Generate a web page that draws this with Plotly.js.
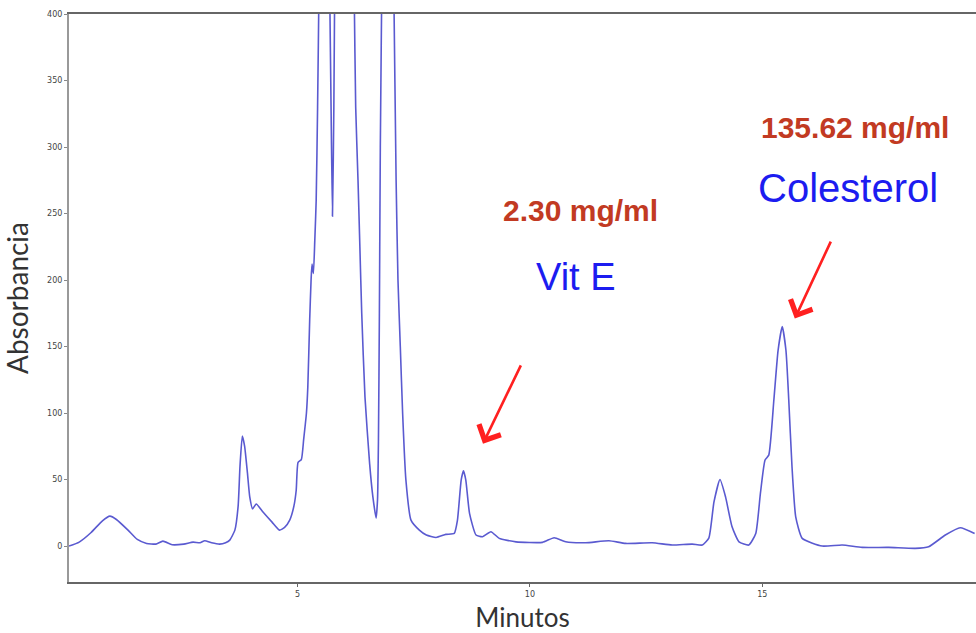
<!DOCTYPE html>
<html>
<head>
<meta charset="utf-8">
<script src="https://cdn.plot.ly/plotly-3.0.1.min.js"></script>
<style>html,body{margin:0;padding:0;background:#fff;}#chart{width:976px;height:633px;}</style>
</head>
<body>
<div id="chart"></div>
<script>
// Retention time (minutes)
const minutos = [
  0.08, 0.3, 0.55, 0.8, 0.96, 1.1, 1.35, 1.55, 1.75, 1.95, 2.1, 2.3, 2.55, 2.75, 2.9, 3.0, 3.15, 3.32, 3.45, 3.54,
  3.65, 3.72, 3.76, 3.81, 3.86, 3.92, 3.97, 4.03, 4.11, 4.25, 4.45, 4.61, 4.72, 4.83, 4.92, 4.97, 5.01, 5.08, 5.13,
  5.19, 5.22, 5.26, 5.29, 5.31, 5.34, 5.37, 5.40, 5.43, 5.46, 5.5, 5.6, 5.66, 5.69, 5.72, 5.75, 5.78, 5.80, 5.85,
  6.0, 6.15, 6.22, 6.25, 6.30, 6.34, 6.38, 6.45, 6.55, 6.62, 6.69, 6.72, 6.74, 6.76, 6.78, 6.82, 6.9, 7.0, 7.07,
  7.12, 7.16, 7.21, 7.26, 7.33, 7.44, 7.62, 7.77, 7.98, 8.19, 8.37, 8.44, 8.52, 8.57, 8.62, 8.70, 8.84, 8.98, 9.16,
  9.34, 9.70, 10.27, 10.52, 10.77, 11.20, 11.70, 12.06, 12.63, 13.06, 13.49, 13.71, 13.85, 13.96, 14.09, 14.21,
  14.35, 14.50, 14.71, 14.86, 14.96, 15.06, 15.14, 15.25, 15.34, 15.43, 15.51, 15.57, 15.64, 15.72, 15.86, 16.29,
  16.72, 17.15, 17.72, 18.29, 18.58, 18.94, 19.26, 19.57
];
// Absorbance
const absorbancia = [
  0, 3, 10, 19, 22.5, 20, 12, 5, 2, 1.5, 3.7, 1, 1.5, 3, 2.5, 4, 2.5, 1.5, 2.5, 4.5,
  12, 30, 60, 82.7, 75, 55, 37, 28, 31.6, 25.8, 18, 12, 14, 19.5, 30, 42, 63, 65, 80,
  100, 120, 170, 200, 212, 205, 230, 260, 330, 420, 600, 650, 520, 420, 330, 248, 330, 430, 650,
  700, 600, 410, 330, 275, 225, 175, 112, 62, 37, 21, 35, 80, 175, 300, 450, 700, 600, 420,
  275, 200, 150, 100, 50, 19.5, 12, 8.3, 6.5, 8.8, 9.5, 19.5, 49.6, 56.6, 49.6, 24.6, 8.3, 7, 10.8,
  5.8, 3.2, 2.8, 6.3, 3.2, 2.5, 4, 2, 2.5, 0.8, 1.5, 0.8, 6, 33, 50, 37,
  14.5, 3.2, 0.8, 9.5, 39.6, 64.7, 68.4, 110, 147, 165, 147, 110, 59.6, 22, 5.8, 0,
  0.8, -1, -1, -1.7, -0.5, 8.3, 13.8, 9.5
];
// Axis ticks
const xTicks = [5, 10, 15];
const yTicks = [0, 50, 100, 150, 200, 250, 300, 350, 400];
// Peak labels
const concLabels = ["2.30 mg/ml", "135.62 mg/ml"];
const compLabels = ["Vit E", "Colesterol"];
const concX = [11.08, 16.99];
const compX = [11.0, 16.84];
const concY = [252, 315];
const compY = [202, 269];
const arrowHead = [[8.99, 77], [15.70, 171]];
const arrowTail = [[9.82, 137], [16.49, 230]];

const annotations = [];
for (let i = 0; i < concLabels.length; i++) {
  annotations.push({x: concX[i], y: concY[i], xref: 'x', yref: 'y', text: '<b>' + concLabels[i] + '</b>',
    showarrow: false, xanchor: 'center', yanchor: 'middle',
    font: {family: 'Liberation Sans, Arial', size: 30, color: '#c23a22'}});
  annotations.push({x: compX[i], y: compY[i], xref: 'x', yref: 'y', text: compLabels[i],
    showarrow: false, xanchor: 'center', yanchor: 'middle',
    font: {family: 'Liberation Sans, Arial', size: i === 0 ? 38 : 40, color: '#1c1cf0'}});
  annotations.push({x: arrowHead[i][0], y: arrowHead[i][1], ax: arrowTail[i][0], ay: arrowTail[i][1],
    xref: 'x', yref: 'y', axref: 'x', ayref: 'y', text: '', showarrow: true,
    arrowhead: 4, arrowsize: 1.8, arrowwidth: 2.6, arrowcolor: '#ff2020'});
}

const trace = {
  x: minutos, y: absorbancia, type: 'scatter', mode: 'lines',
  line: {color: '#5a5ad0', width: 1.6, shape: 'spline', smoothing: 0.5},
  hoverinfo: 'skip'
};

const layout = {
  width: 976, height: 633,
  margin: {l: 69, r: 0, t: 14, b: 51},
  paper_bgcolor: '#ffffff', plot_bgcolor: '#ffffff',
  showlegend: false,
  xaxis: {
    range: [0.08, 19.6], tickvals: xTicks, ticktext: xTicks.map(String),
    showgrid: false, zeroline: false, showline: true, linecolor: '#666', linewidth: 2, mirror: true,
    ticks: 'outside', ticklen: 3, tickcolor: '#666', tickwidth: 1,
    tickfont: {family: 'DejaVu Sans', size: 8, color: '#444'},
    title: {text: 'Minutos', font: {family: 'Lato', size: 26, color: '#333'}, standoff: 12}
  },
  yaxis: {
    range: [-27, 400], tickvals: yTicks, ticktext: yTicks.map(String),
    showgrid: false, zeroline: false, showline: true, linecolor: '#999', linewidth: 2, mirror: false,
    ticks: 'outside', ticklen: 3, tickcolor: '#888', tickwidth: 1,
    tickfont: {family: 'DejaVu Sans', size: 8, color: '#444'},
    title: {text: 'Absorbancia', font: {family: 'Lato', size: 28, color: '#333'}, standoff: 10}
  },
  annotations: annotations
};

Plotly.newPlot('chart', [trace], layout, {displayModeBar: false, staticPlot: true});
</script>
</body>
</html>
